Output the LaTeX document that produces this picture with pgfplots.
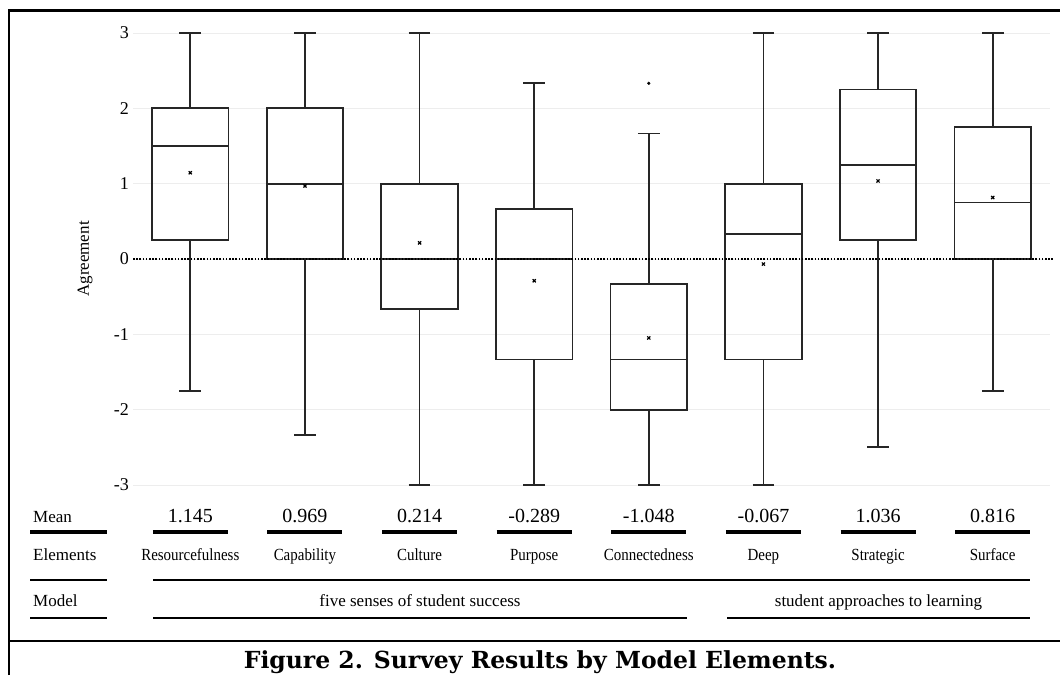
\documentclass[border=0pt]{standalone}
\usepackage{fontspec}
\setmainfont{Liberation Serif}
\newfontfamily\capfont{DejaVu Serif}
\usepackage{graphicx}
\usepackage{pgfplots}
\pgfplotsset{compat=1.18}
\usepgfplotslibrary{statistics}
\newcommand\fs[1]{\fontsize{#1}{#1}\selectfont}
\pgfplotsset{
  bx/.style={black!85, line width=1.7pt, solid, mark=none,
    boxplot prepared={#1, box extend=0.667, whisker extend=0.19}},
}
\begin{document}
\begin{tikzpicture}[x=1pt,y=1pt]
\path[use as bounding box] (0,0) rectangle (1060,-675);
% frame
\draw[line width=2.8pt] (9,-675) -- (9,-10.5) -- (1060,-10.5);
\draw[line width=2.6pt] (9,-641) -- (1060,-641);

\begin{axis}[at={(133pt,-485pt)}, anchor=south west,
  scale only axis, width=917pt, height=452pt,
  xmin=-0.5, xmax=7.5, ymin=-3, ymax=3,
  ytick={-3,-2,-1,0,1,2,3}, yticklabels={-3,-2,-1,0,1,2,3},
  xtick=\empty,
  axis line style={draw=none}, major tick length=0pt,
  ymajorgrids, grid style={color=black!7, line width=1pt},
  yticklabel style={font=\fs{18}, inner sep=0pt, xshift=-4pt},
  ylabel={Agreement},
  ylabel style={font=\fs{17}, at={(axis description cs:0,0.5)}, anchor=center, rotate=0, yshift=48pt},
  clip=false,
  boxplot/draw direction=y,
]
\addplot[bx={draw position=0, lower whisker=-1.75, lower quartile=0.25, median=1.5, upper quartile=2, upper whisker=3}] coordinates {};
\addplot[bx={draw position=1, lower whisker=-2.333, lower quartile=0, median=1, upper quartile=2, upper whisker=3}] coordinates {};
\addplot[bx={draw position=2, lower whisker=-3, lower quartile=-0.667, median=0, upper quartile=1, upper whisker=3}] coordinates {};
\addplot[bx={draw position=3, lower whisker=-3, lower quartile=-1.333, median=0, upper quartile=0.667, upper whisker=2.333}] coordinates {};
\addplot[bx={draw position=4, lower whisker=-3, lower quartile=-2, median=-1.333, upper quartile=-0.333, upper whisker=1.667}] coordinates {};
\addplot[bx={draw position=5, lower whisker=-3, lower quartile=-1.333, median=0.333, upper quartile=1, upper whisker=3}] coordinates {};
\addplot[bx={draw position=6, lower whisker=-2.5, lower quartile=0.25, median=1.25, upper quartile=2.25, upper whisker=3}] coordinates {};
\addplot[bx={draw position=7, lower whisker=-1.75, lower quartile=0, median=0.75, upper quartile=1.75, upper whisker=3}] coordinates {};
% outlier
\addplot[only marks, mark=*, mark size=1.4pt, black] coordinates {(4,2.333)};
% means
\addplot[only marks, mark=x, mark size=2.2pt, black, line width=1.2pt] coordinates {
(0,1.145) (1,0.969) (2,0.214) (3,-0.289) (4,-1.048) (5,-0.067) (6,1.036) (7,0.816)};
% zero line
\addplot[black, line width=1.6pt, dash pattern=on 1.6pt off 1.6pt, mark=none] coordinates {(-0.5,0) (7.53,0)};
\end{axis}

% table
\node[font=\fs{17}, anchor=base west, inner sep=0pt] at (33,-522) {Mean};
\node[font=\fs{17}, anchor=base west, inner sep=0pt] at (33,-560.5) {Elements};
\node[font=\fs{17}, anchor=base west, inner sep=0pt] at (33,-606) {Model};
\draw[line width=3.5pt] (30,-532) -- (107,-532);
\draw[line width=2.6pt] (30,-580) -- (107,-580);
\draw[line width=2.6pt] (30,-618) -- (107,-618);

\foreach \v/\n [count=\i from 0] in {1.145/Resourcefulness,0.969/Capability,0.214/Culture,-0.289/Purpose,-1.048/Connectedness,-0.067/Deep,1.036/Strategic,0.816/Surface} {
  \pgfmathsetmacro\cx{190.3+114.625*\i}
  \node[font=\fs{20}, anchor=base, inner sep=0pt] at (\cx,-522) {\v};
  \draw[line width=3.5pt] (\cx-37.5,-532) -- (\cx+37.5,-532);
  \node[font=\fs{17}, anchor=base, inner sep=0pt] at (\cx,-560.5) {\scalebox{0.88}[1]{\n}};
}
\draw[line width=2.6pt] (153,-580) -- (1030,-580);
\draw[line width=2.6pt] (153,-618) -- (687,-618);
\draw[line width=2.6pt] (727,-618) -- (1030,-618);
\node[font=\fs{17}, anchor=base, inner sep=0pt] at (420,-606) {five senses of student success};
\node[font=\fs{17}, anchor=base, inner sep=0pt] at (878.5,-606) {student approaches to learning};

\node[font=\capfont\bfseries\fs{23.5}, anchor=base, inner sep=0pt] at (540,-668.5) {Figure 2. Survey Results by Model Elements.};
\end{tikzpicture}
\end{document}
